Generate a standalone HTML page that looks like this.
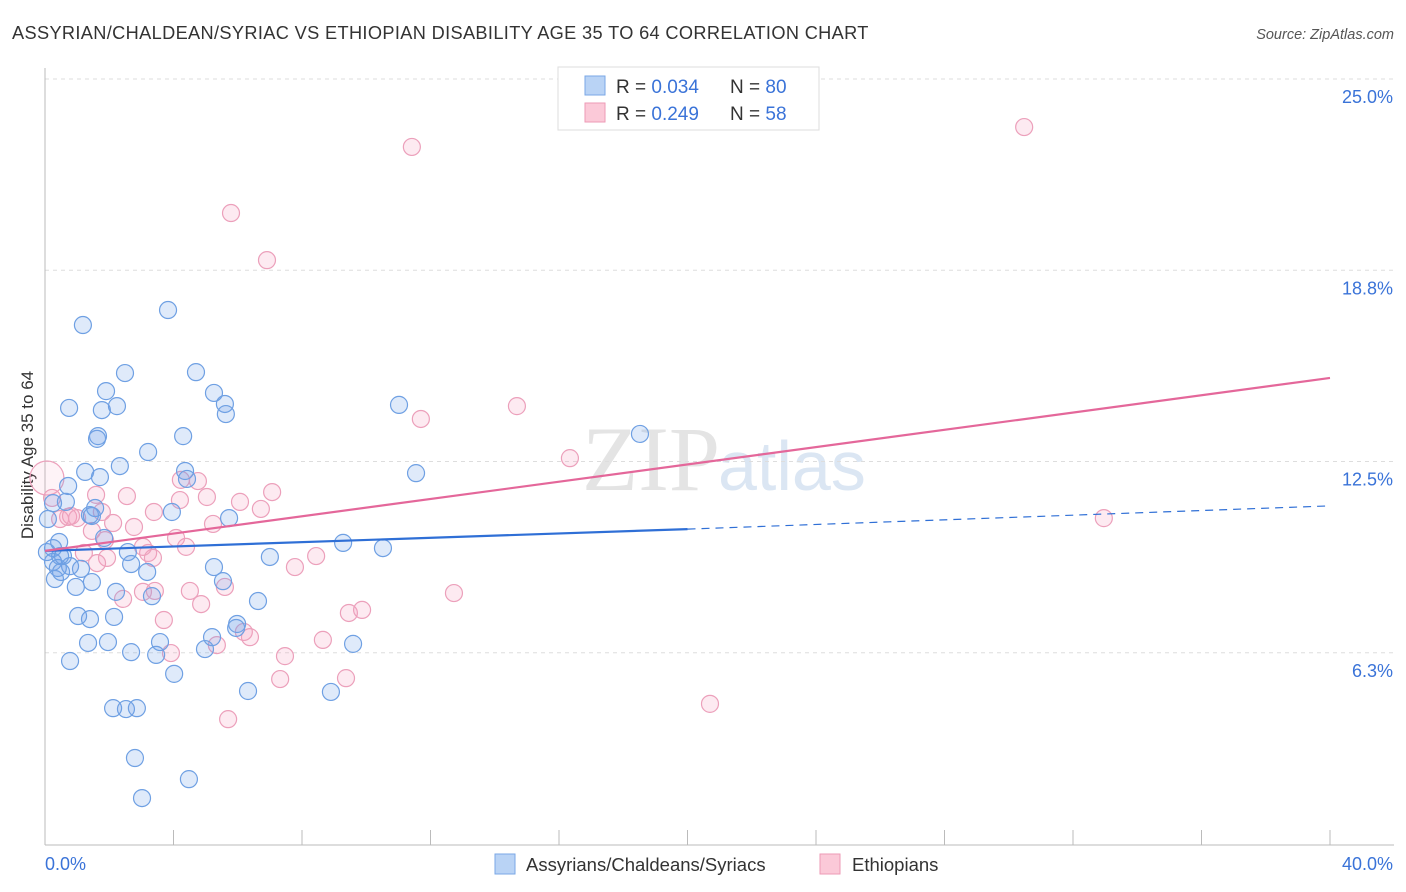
<!DOCTYPE html>
<html><head><meta charset="utf-8"><style>
body{margin:0;background:#fff;font-family:"Liberation Sans",sans-serif;}
#wrap{position:relative;width:1406px;height:892px;overflow:hidden;}
</style></head><body>
<div id="wrap">
<svg id="chart" width="1406" height="892">
<text x="12" y="39" font-size="18.2" letter-spacing="0.35" fill="#333">ASSYRIAN/CHALDEAN/SYRIAC VS ETHIOPIAN DISABILITY AGE 35 TO 64 CORRELATION CHART</text>
<text x="1394" y="39" font-size="14.5" fill="#555" font-style="italic" text-anchor="end">Source: ZipAtlas.com</text>
<text x="720" y="490" font-size="92" fill="#e4e4e4" text-anchor="end" font-family="Liberation Serif,serif">ZIP</text>
<text x="718" y="490" font-size="70" fill="#dbe6f3">atlas</text>
<text transform="translate(33,455) rotate(-90)" font-size="17" fill="#333" text-anchor="middle">Disability Age 35 to 64</text>
<g id="grid"></g><g id="axes"></g><g id="pts"></g><g id="lines"></g>
<g>
<rect x="558" y="67" width="261" height="63" fill="#fff" stroke="#ddd"/>
<rect x="585" y="76" width="20" height="19" fill="#b9d3f5" stroke="#7aa7e6"/>
<rect x="585" y="103" width="20" height="19" fill="#fbc9d8" stroke="#ee9ab6"/>
<text x="616" y="93" font-size="19" fill="#333">R = <tspan fill="#3a73d8">0.034</tspan></text>
<text x="730" y="93" font-size="19" fill="#333">N = <tspan fill="#3a73d8">80</tspan></text>
<text x="616" y="120" font-size="19" fill="#333">R = <tspan fill="#3a73d8">0.249</tspan></text>
<text x="730" y="120" font-size="19" fill="#333">N = <tspan fill="#3a73d8">58</tspan></text>
</g>
<g>
<rect x="495" y="854" width="20" height="20" fill="#b9d3f5" stroke="#7aa7e6"/>
<text x="526" y="871" font-size="18.5" fill="#333">Assyrians/Chaldeans/Syriacs</text>
<rect x="820" y="854" width="20" height="20" fill="#fbc9d8" stroke="#ee9ab6"/>
<text x="852" y="871" font-size="18.5" fill="#333">Ethiopians</text>
</g>
</svg></div>
<script>
const blueX=[1.18,3.83,2.49,4.70,1.90,5.26,0.75,1.77,2.24,5.60,5.63,1.65,1.62,4.30,3.21,2.33,1.25,1.71,4.36,4.42,0.72,0.65,1.56,0.25,1.40,1.46,3.95,5.73,0.09,1.84,0.44,0.25,2.58,0.56,0.25,2.68,0.40,0.78,1.12,3.18,5.26,0.31,1.46,5.54,0.96,2.21,3.33,6.63,1.03,1.40,2.15,5.98,5.95,3.58,1.34,1.96,5.20,2.68,3.46,4.98,0.78,4.02,6.32,8.90,2.12,2.52,2.86,2.80,4.48,3.02,7.00,9.28,10.52,9.59,11.02,11.55,18.52,0.47,0.06,0.50];
const blueY=[16.96,17.45,15.39,15.42,14.80,14.74,14.25,14.18,14.31,14.38,14.05,13.33,13.24,13.33,12.81,12.35,12.16,11.99,12.19,11.93,11.70,11.18,10.98,11.14,10.75,10.72,10.85,10.65,10.62,10.00,9.87,9.67,9.54,9.41,9.22,9.15,9.02,9.08,8.99,8.89,9.05,8.66,8.56,8.59,8.40,8.24,8.10,7.94,7.45,7.35,7.42,7.19,7.06,6.60,6.57,6.60,6.76,6.27,6.18,6.37,5.98,5.56,5.00,4.97,4.44,4.41,4.44,2.81,2.12,1.50,9.38,9.84,9.67,6.54,14.35,12.12,13.40,9.41,9.54,8.89];
const pinkX=[30.48,11.42,5.79,6.91,14.69,11.70,16.34,32.96,0.06,0.22,2.55,4.23,4.76,4.20,5.04,7.07,6.07,6.72,3.39,0.47,0.72,1.00,1.77,2.12,5.23,2.77,1.46,4.08,4.39,1.21,1.93,3.21,3.36,8.44,7.78,5.60,4.51,3.42,3.05,2.43,4.86,9.46,9.87,12.73,3.70,6.19,6.38,8.65,5.35,3.92,7.47,7.32,9.37,5.70,20.70,1.59,0.81,1.87,3.05,1.62];
const pinkY=[23.43,22.78,20.62,19.08,14.31,13.89,12.61,10.65,11.96,11.31,11.37,11.90,11.86,11.24,11.34,11.50,11.18,10.95,10.85,10.62,10.69,10.65,10.85,10.49,10.46,10.36,10.23,10.00,9.71,9.51,9.35,9.51,9.35,9.41,9.05,8.40,8.27,8.27,8.24,8.01,7.84,7.55,7.65,8.20,7.32,6.93,6.76,6.67,6.50,6.24,6.14,5.39,5.42,4.08,4.58,11.41,10.72,9.93,9.71,9.18];
const yTicks=[6.25,12.5,18.75,25];
const yTickLabels=["6.3%","12.5%","18.8%","25.0%"];
const blueTrend=[9.58,10.29,11.05];
const pinkTrend=[9.58,15.23];
const NS="http://www.w3.org/2000/svg";
const sx=v=>45+v*32.125, sy=v=>844-v*30.6;
function mk(tag,attrs,parent){const e=document.createElementNS(NS,tag);for(const k in attrs)e.setAttribute(k,attrs[k]);parent.appendChild(e);return e;}
const grid=document.getElementById('grid'),axes=document.getElementById('axes'),pts=document.getElementById('pts'),lines=document.getElementById('lines');
yTicks.forEach((t,i)=>{
 const l=mk('line',{x1:45,x2:1394,y1:sy(t),y2:sy(t),stroke:'#ddd','stroke-dasharray':'4,4'},grid);
 
 
 const tx=mk('text',{x:1393,y:sy(t)+24,'font-size':18,fill:'#3a73d8','text-anchor':'end'},axes);
 tx.textContent=yTickLabels[i];
 
 
});
mk('line',{x1:45,x2:45,y1:68,y2:845,stroke:'#bbb'},axes);
mk('line',{x1:45,x2:1394,y1:845,y2:845,stroke:'#bbb'},axes);
for(let v=0;v<=40;v+=4){const l=mk('line',{x1:sx(v),x2:sx(v),y1:830,y2:845,stroke:'#bbb'},axes);
 
 }
let t0=mk('text',{x:45,y:870,'font-size':18,fill:'#3a73d8'},axes);t0.textContent='0.0%';


let t1=mk('text',{x:1393,y:870,'font-size':18,fill:'#3a73d8','text-anchor':'end'},axes);t1.textContent='40.0%';


pinkX.forEach((x,i)=>{const c=mk('circle',{cx:sx(x),cy:sy(pinkY[i]),r:i===8?17:8.5,fill:i===8?'rgba(244,160,190,0.12)':'rgba(244,160,190,0.22)',stroke:'#eca0bb','stroke-width':1.2},pts);
 
 });
blueX.forEach((x,i)=>{const c=mk('circle',{cx:sx(x),cy:sy(blueY[i]),r:8.5,fill:'rgba(110,160,230,0.22)',stroke:'#6fa0e3','stroke-width':1.2},pts);
 
 });
const b1=mk('line',{x1:sx(0),y1:sy(blueTrend[0]),x2:sx(20),y2:sy(blueTrend[1]),stroke:'#2f6fd6','stroke-width':2.2},lines);


const b2=mk('line',{x1:sx(20),y1:sy(blueTrend[1]),x2:sx(40),y2:sy(blueTrend[2]),stroke:'#2f6fd6','stroke-width':1.2,'stroke-dasharray':'8,6'},lines);


const p1=mk('line',{x1:sx(0),y1:sy(pinkTrend[0]),x2:sx(40),y2:sy(pinkTrend[1]),stroke:'#e4679a','stroke-width':2.2},lines);


</script>
</body></html>
